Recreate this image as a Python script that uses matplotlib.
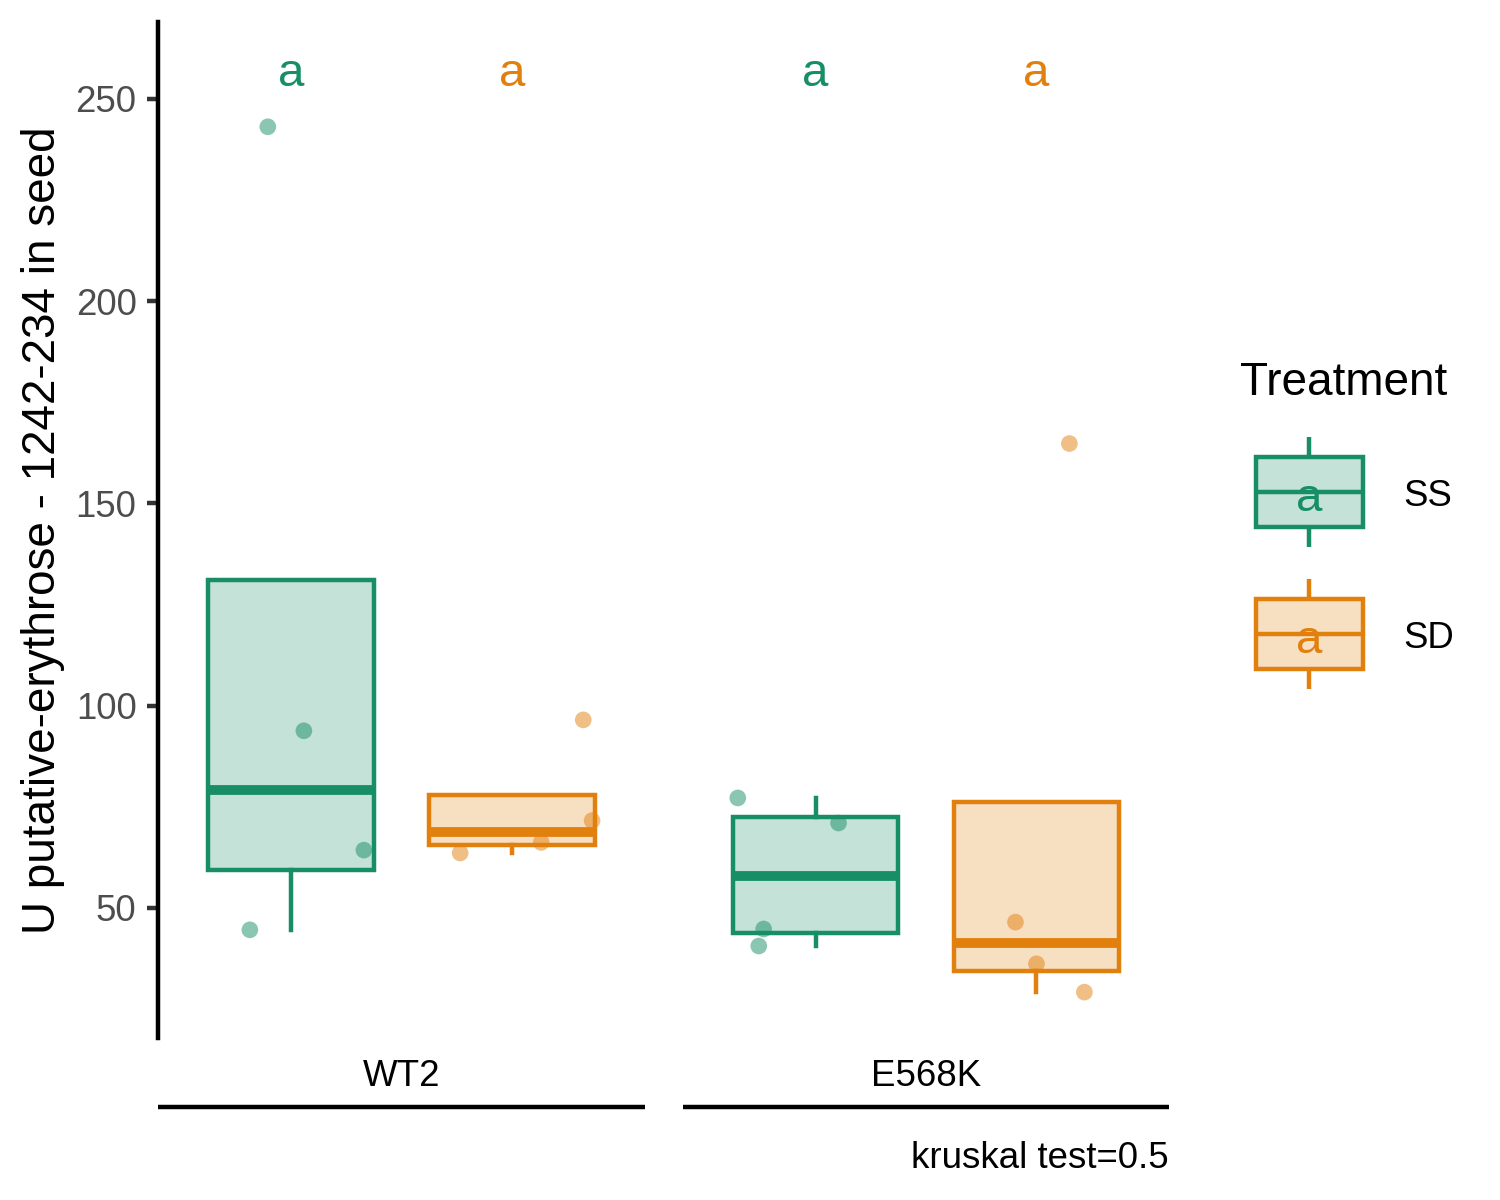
import matplotlib
matplotlib.use("Agg")
import matplotlib.pyplot as plt
from matplotlib.patches import Rectangle

plt.rcParams['font.family'] = ['Liberation Sans', 'DejaVu Sans']

# data
genotypes = ['WT2', 'E568K']
treatments = ['SS', 'SD']
colors = {'SS': '#178E66', 'SD': '#E2800E'}

wt2_ss = [243.1, 93.8, 64.3, 44.6]
wt2_sd = [96.5, 71.6, 66.2, 63.6]
e568k_ss = [77.2, 71.0, 44.8, 40.6]
e568k_sd = [164.8, 46.5, 36.2, 29.2]

# horizontal jitter of each point (x units)
wt2_ss_jit = [-0.104, 0.059, 0.330, -0.185]
wt2_sd_jit = [0.321, 0.361, 0.131, -0.235]
e568k_ss_jit = [-0.352, 0.104, -0.235, -0.257]
e568k_sd_jit = [0.149, -0.095, 0.0, 0.217]

letters = {'WT2': ['a', 'a'], 'E568K': ['a', 'a']}
letter_y = 257.6
caption = 'kruskal test=0.5'
ylabel = 'U putative-erythrose - 1242-234 in seed'

data = {
    'WT2': [(wt2_ss, wt2_ss_jit), (wt2_sd, wt2_sd_jit)],
    'E568K': [(e568k_ss, e568k_ss_jit), (e568k_sd, e568k_sd_jit)],
}

W, H = 1500, 1200
fig = plt.figure(figsize=(5, 4), dpi=300)

def fx(px):
    return px / W

def fy(py):
    return 1 - py / H

panels = {'WT2': (158, 645), 'E568K': (683, 1169)}
top, bot = 22, 1038
lw = 1.07

for gi, g in enumerate(genotypes):
    x0, x1 = panels[g]
    ax = fig.add_axes([fx(x0), fy(bot), fx(x1 - x0), (bot - top) / H])
    for ti, t in enumerate(treatments):
        vals, jit = data[g][ti]
        pos = ti + 1
        c = colors[t]
        ax.boxplot(vals, positions=[pos], widths=0.75, showfliers=False,
                   showcaps=False, patch_artist=True, whis=1.5,
                   boxprops=dict(facecolor=matplotlib.colors.to_rgba(c, 0.25),
                                 edgecolor=c, linewidth=lw),
                   whiskerprops=dict(color=c, linewidth=lw),
                   medianprops=dict(color=c, linewidth=lw * 2.2,
                                    solid_capstyle='butt'))
        ax.scatter([pos + j for j in jit], vals, s=4.0 ** 2, color=c,
                   alpha=0.5, edgecolors='none', zorder=5)
        ax.annotate(letters[g][ti], xy=(pos, letter_y), xytext=(0, -1.4),
                    textcoords='offset points', color=c, fontsize=11.4,
                    ha='center', va='center')
    ax.set_xlim(0.4, 2.6)
    ax.set_ylim(17.86, 269.0)
    for s in ['top', 'right', 'bottom']:
        ax.spines[s].set_visible(False)
    ax.set_xticks([])
    if gi == 0:
        ax.spines['left'].set_linewidth(lw)
        ax.spines['left'].set_color('black')
        ax.set_yticks([50, 100, 150, 200, 250])
        ax.tick_params(axis='y', length=2.64, width=lw, color='#333333',
                       labelcolor='#4D4D4D', labelsize=8.8, pad=2.5)
        ax.set_ylabel(ylabel, fontsize=11, labelpad=2.6)
    else:
        ax.spines['left'].set_visible(False)
        ax.set_yticks([])

# overlay for strips, caption and legend (pixel coordinates)
ov = fig.add_axes([0, 0, 1, 1], zorder=-1)
ov.set_xlim(0, W)
ov.set_ylim(H, 0)
ov.axis('off')

for g in genotypes:
    x0, x1 = panels[g]
    ov.text((x0 + x1) / 2, 1076, g, fontsize=8.8, ha='center', va='center')
    ov.plot([x0, x1], [1107, 1107], color='black', lw=lw,
            solid_capstyle='butt')

ov.text(1169, 1159, caption, fontsize=8.8, ha='right', va='center')

ov.text(1240, 383, 'Treatment', fontsize=11, ha='left', va='center')
key_centers = [492, 634]
for t, cy in zip(treatments, key_centers):
    c = colors[t]
    ov.plot([1309, 1309], [cy - 55, cy - 35], color=c, lw=lw,
            solid_capstyle='butt')
    ov.plot([1309, 1309], [cy + 35, cy + 55], color=c, lw=lw,
            solid_capstyle='butt')
    ov.add_patch(Rectangle((1256, cy - 35), 107, 70,
                           facecolor=matplotlib.colors.to_rgba(c, 0.25),
                           edgecolor=c, lw=lw))
    ov.plot([1256, 1363], [cy, cy], color=c, lw=lw, solid_capstyle='butt')
    ov.text(1309, cy + 7, 'a', color=c, fontsize=11.4, ha='center',
            va='center')
    ov.text(1403, cy + 4, t, fontsize=8.8, ha='left', va='center')

fig.savefig('out.png', dpi=300)
